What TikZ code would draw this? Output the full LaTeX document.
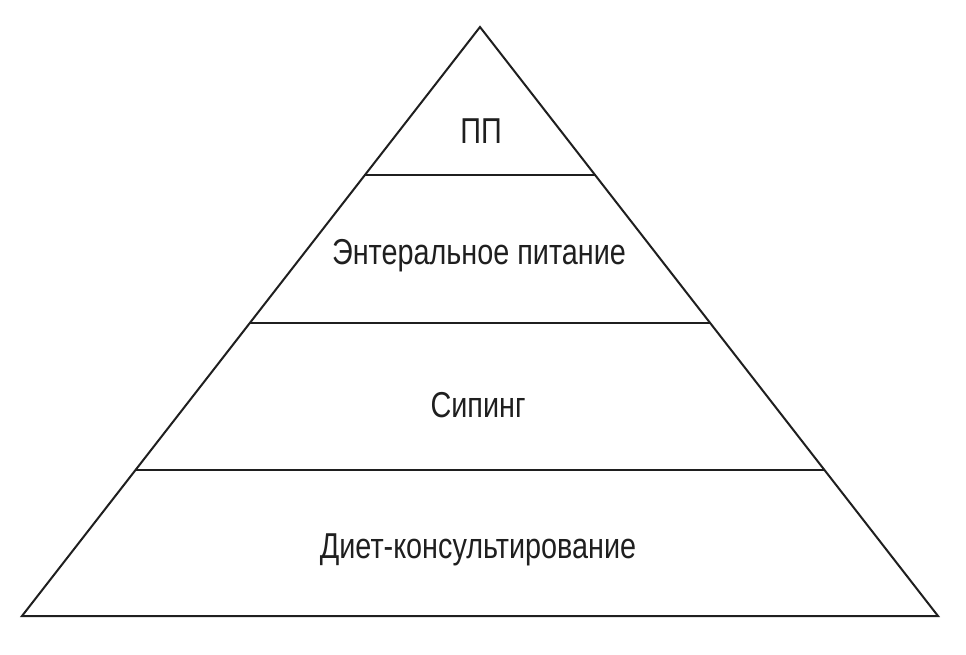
\documentclass[tikz,border=0pt]{standalone}
\usepackage{fontspec}
\setmainfont[FakeStretch=0.8]{Liberation Sans}
\begin{document}
\begin{tikzpicture}[x=1pt,y=-1pt,line width=2pt,color={black!88}]
      \useasboundingbox (0,0) rectangle (966,654);
      \draw
        (480,27) coordinate (top)
        (22,616) coordinate (bl)
        (938,616) coordinate (br)
        (365,175) coordinate (l1)
        (595,175) coordinate (r1)
        (250,323) coordinate (l2)
        (710,323) coordinate (r2)
        (135.5,470) coordinate (l3)
        (824.5,470) coordinate (r3);
      \draw[line join=miter] (top) -- (bl) -- (br) -- cycle;
      \begin{scope}[-]
        \draw (l1) to (r1);
        \draw (l2) to (r2);
        \draw (l3) to (r3);
      \end{scope}
      \begin{scope}[font=\fontsize{36}{40}\selectfont]
        \node (0) at (481,131) {ПП};
        \node (1) at (479,256) {Энтеральное питание};
        \node (2) at (478,405) {Сипинг};
        \node (3) at (478,550) {Диет-консультирование};
      \end{scope}
    \end{tikzpicture}
\end{document}
